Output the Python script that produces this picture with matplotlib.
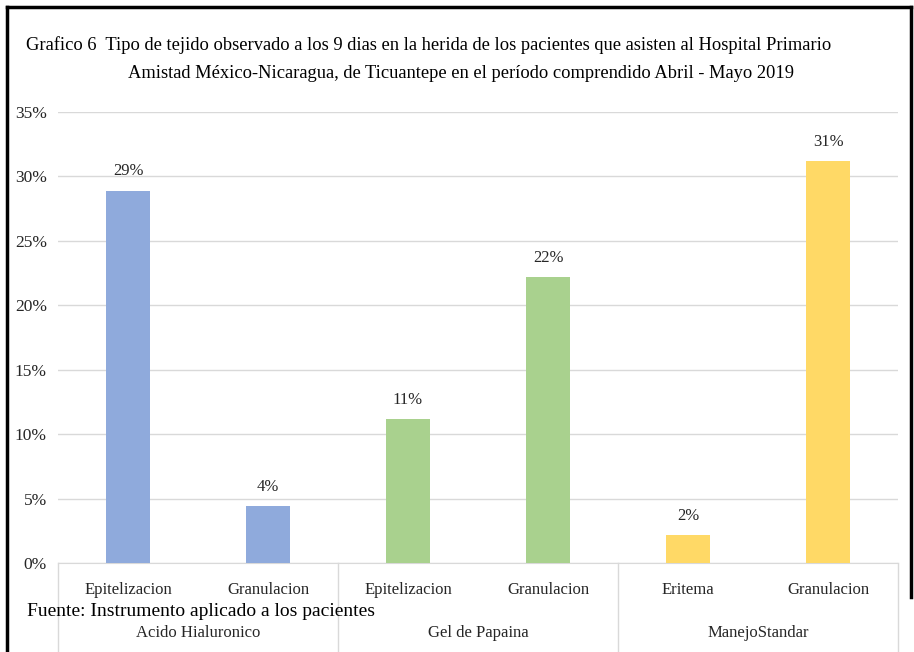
import matplotlib.pyplot as plt
from matplotlib.lines import Line2D

# datos
categorias = ["Epitelizacion", "Granulacion", "Epitelizacion", "Granulacion", "Eritema", "Granulacion"]
grupos = ["Acido Hialuronico", "Gel de Papaina", "ManejoStandar"]
valores = [28.9, 4.4, 11.2, 22.2, 2.2, 31.2]
etiquetas = ["29%", "4%", "11%", "22%", "2%", "31%"]
colores_grupo = ["#8FAADC", "#A9D18E", "#FFD966"]
yticks = [0, 5, 10, 15, 20, 25, 30, 35]

plt.rcParams["font.family"] = ["Liberation Serif", "DejaVu Serif"]

fig = plt.figure(figsize=(9.14, 6.52), dpi=100)
ax = fig.add_axes([58 / 914, 1 - 563 / 652, 840 / 914, 451 / 652])

x = list(range(len(valores)))
colores = [colores_grupo[i // 2] for i in x]
ax.bar(x, valores, width=0.31, color=colores, zorder=3)
for xi, v, t in zip(x, valores, etiquetas):
    ax.annotate(t, (xi, v), xytext=(0, 8), textcoords="offset points",
                ha="center", va="bottom", fontsize=12, color="#262626")

ax.set_xlim(-0.5, 5.5)
ax.set_ylim(0, 35)
ax.set_yticks(yticks)
ax.set_yticklabels([f"{t}%" for t in yticks], fontsize=12.5, color="#262626")
ax.yaxis.grid(True, color="#D9D9D9", linewidth=1, zorder=0)
ax.tick_params(axis="y", length=0, pad=8)
ax.set_xticks([])
for s in ["top", "right", "left"]:
    ax.spines[s].set_visible(False)
ax.spines["bottom"].set_color("#D9D9D9")

# etiquetas de categorias y grupos
trans = ax.get_xaxis_transform()
for xi, c in zip(x, categorias):
    ax.text(xi, -27 / 451, c, transform=trans, ha="center", va="center",
            fontsize=12, color="#262626")
for g, nombre in enumerate(grupos):
    ax.text(2 * g + 0.5, -70 / 451, nombre, transform=trans, ha="center",
            va="center", fontsize=12, color="#262626")
for xs in [-0.5, 1.5, 3.5, 5.5]:
    ax.add_line(Line2D([xs, xs], [0, -89 / 451], transform=trans, color="#D9D9D9",
                       linewidth=1, clip_on=False))

# titulo
fig.text(26 / 914, 1 - 45 / 652, "Grafico 6  Tipo de tejido observado a los 9 dias en la herida de los pacientes que asisten al Hospital Primario",
         ha="left", va="center", fontsize=13.3)
fig.text(461 / 914, 1 - 73 / 652, "Amistad México-Nicaragua, de Ticuantepe en el período comprendido Abril - Mayo 2019",
         ha="center", va="center", fontsize=13.3)

fig.text(27 / 914, 1 - 611 / 652, "Fuente: Instrumento aplicado a los pacientes",
         ha="left", va="center", fontsize=14)

# marco negro
fig.add_artist(Line2D([7 / 914, 7 / 914], [0, 1 - 7 / 652], transform=fig.transFigure, color="black", linewidth=2.5))
fig.add_artist(Line2D([7 / 914, 911 / 914], [1 - 7 / 652, 1 - 7 / 652], transform=fig.transFigure, color="black", linewidth=2.5))
fig.add_artist(Line2D([911 / 914, 911 / 914], [1 - 7 / 652, 1 - 597 / 652], transform=fig.transFigure, color="black", linewidth=2.5))

fig.savefig("out.png", dpi=100)
